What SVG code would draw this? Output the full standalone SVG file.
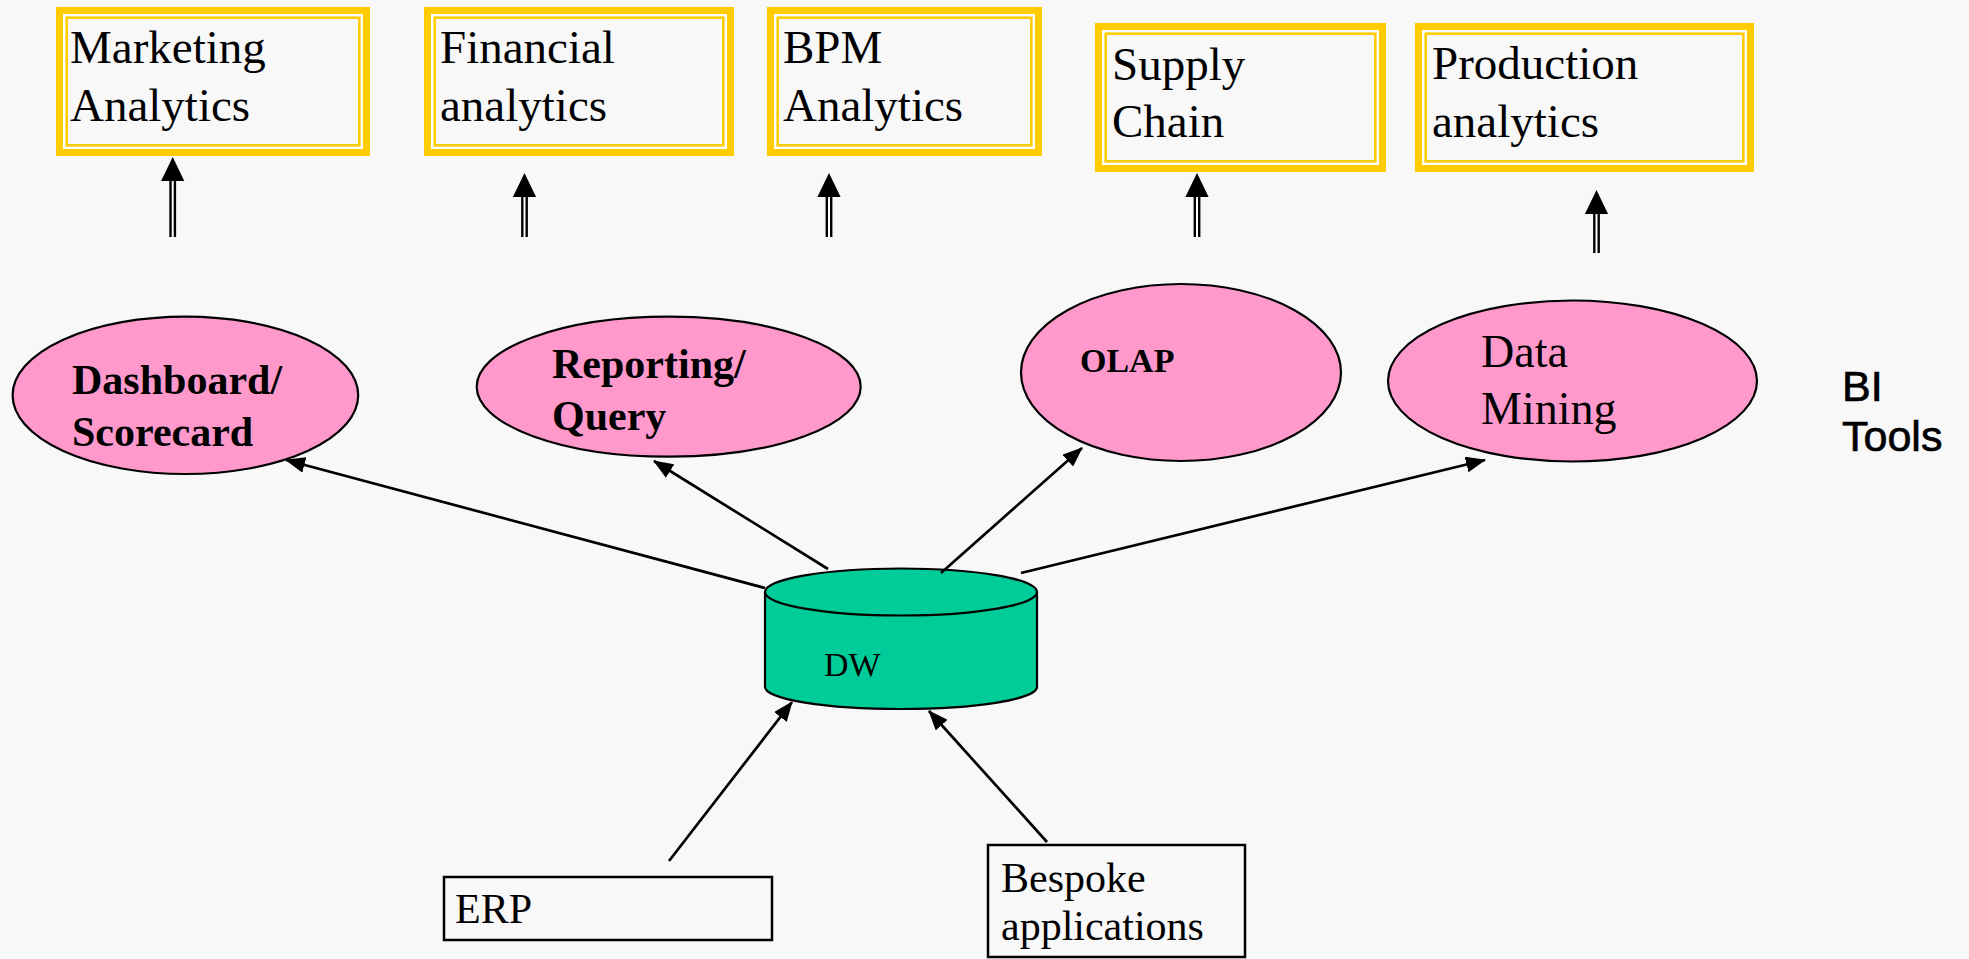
<svg xmlns="http://www.w3.org/2000/svg" width="1969" height="959" viewBox="0 0 1969 959">
<style>
.bg{fill:#f8f8f8}
.yb{fill:none;stroke:#ffcc00;stroke-width:7}
.wl{fill:none;stroke:#ffffff;stroke-width:2.4}
.yt{fill:none;stroke:#ffcc00;stroke-width:2.6}
.t{font-family:"Liberation Serif","Times New Roman",serif;fill:#000}
.tb{font-family:"Liberation Serif","Times New Roman",serif;font-weight:bold;fill:#000}
.s{font-family:"Liberation Sans",Arial,sans-serif;fill:#000;stroke:#000;stroke-width:0.7}
.pk{fill:#ff99cc;stroke:#000;stroke-width:2.2}
.cyl{fill:#00cc99;stroke:#000;stroke-width:2.2}
.box{fill:none;stroke:#000;stroke-width:2.5}
.c{stroke:#000;stroke-width:2.7;fill:none}
.sh1{stroke:#000;stroke-width:6.8}
.sh2{stroke:#ffffff;stroke-width:2}
.ah{fill:#000}
</style>
<defs>
<marker id="arr" markerUnits="userSpaceOnUse" markerWidth="20" markerHeight="16" viewBox="0 0 20 16" refX="19" refY="8" orient="auto">
<path d="M0,0 L20,8 L0,16 Z" fill="#000"/>
</marker>
</defs>
<rect class="bg" x="0" y="0" width="1969" height="959"/>

<g id="marketing">
<rect class="yb" x="59.5" y="10.5" width="307" height="142"/>
<rect class="wl" x="64.2" y="15.2" width="297.6" height="132.6"/>
<rect class="yt" x="66.7" y="17.7" width="292.6" height="127.6"/>
<text class="t" font-size="47" x="70" y="63">Marketing</text>
<text class="t" font-size="47" x="70" y="121">Analytics</text>
</g>
<g id="financial">
<rect class="yb" x="427.5" y="10.5" width="303" height="142"/>
<rect class="wl" x="432.2" y="15.2" width="293.6" height="132.6"/>
<rect class="yt" x="434.7" y="17.7" width="288.6" height="127.6"/>
<text class="t" font-size="47" x="440" y="63">Financial</text>
<text class="t" font-size="47" x="440" y="121">analytics</text>
</g>
<g id="bpm">
<rect class="yb" x="770.5" y="10.5" width="268" height="142"/>
<rect class="wl" x="775.2" y="15.2" width="258.6" height="132.6"/>
<rect class="yt" x="777.7" y="17.7" width="253.6" height="127.6"/>
<text class="t" font-size="47" x="783" y="63">BPM</text>
<text class="t" font-size="47" x="783" y="121">Analytics</text>
</g>
<g id="supply">
<rect class="yb" x="1098.5" y="26.5" width="284" height="142"/>
<rect class="wl" x="1103.2" y="31.2" width="274.6" height="132.6"/>
<rect class="yt" x="1105.7" y="33.7" width="269.6" height="127.6"/>
<text class="t" font-size="47" x="1112" y="80">Supply</text>
<text class="t" font-size="47" x="1112" y="137">Chain</text>
</g>
<g id="production">
<rect class="yb" x="1418.5" y="26.5" width="332" height="142"/>
<rect class="wl" x="1423.2" y="31.2" width="322.6" height="132.6"/>
<rect class="yt" x="1425.7" y="33.7" width="317.6" height="127.6"/>
<text class="t" font-size="47" x="1432" y="79">Production</text>
<text class="t" font-size="47" x="1432" y="137">analytics</text>
</g>

<g id="dashboard">
<ellipse class="pk" cx="185.4" cy="395.3" rx="172.8" ry="78.7"/>
<text class="tb" font-size="42" x="72" y="394">Dashboard/</text>
<text class="tb" font-size="42" x="72" y="446">Scorecard</text>
</g>
<g id="reporting">
<ellipse class="pk" cx="668.7" cy="386.7" rx="192" ry="70"/>
<text class="tb" font-size="42" x="552" y="378">Reporting/</text>
<text class="tb" font-size="42" x="552" y="430">Query</text>
</g>
<g id="olap">
<ellipse class="pk" cx="1181" cy="372.5" rx="160" ry="88.5"/>
<text class="tb" font-size="34" x="1080" y="372">OLAP</text>
</g>
<g id="datamining">
<ellipse class="pk" cx="1572.5" cy="381" rx="184.5" ry="80.5"/>
<text class="t" font-size="46" x="1481" y="367">Data</text>
<text class="t" font-size="46" x="1481" y="424">Mining</text>
</g>
<g id="bitools">
<text class="s" font-size="43" x="1842" y="401">BI</text>
<text class="s" font-size="43" x="1842" y="451">Tools</text>
</g>

<g id="dw">
<path class="cyl" d="M765,592 L765,687 A136,22 0 0 0 1037,687 L1037,592 A136,23.5 0 0 0 765,592 Z"/>
<path class="cyl" d="M765,592 A136,23.5 0 0 0 1037,592"/>
<text class="t" font-size="34" x="824" y="676">DW</text>
</g>

<g id="erp">
<rect class="box" x="444" y="877" width="328" height="63"/>
<text class="t" font-size="42" x="455" y="923">ERP</text>
</g>
<g id="bespoke">
<rect class="box" x="988" y="845" width="257" height="112"/>
<text class="t" font-size="42" x="1001" y="892">Bespoke</text>
<text class="t" font-size="42" x="1001" y="940">applications</text>
</g>

<g id="connectors">
<line class="c" x1="765" y1="588" x2="286" y2="460" marker-end="url(#arr)"/>
<line class="c" x1="828" y1="569" x2="654" y2="461" marker-end="url(#arr)"/>
<line class="c" x1="941" y1="573" x2="1082" y2="448" marker-end="url(#arr)"/>
<line class="c" x1="1021" y1="573" x2="1485" y2="460" marker-end="url(#arr)"/>
<line class="c" x1="669" y1="861" x2="792" y2="702" marker-end="url(#arr)"/>
<line class="c" x1="1047" y1="842" x2="929" y2="711" marker-end="url(#arr)"/>

<g id="up-marketing">
<line class="sh1" x1="172.7" y1="180" x2="172.7" y2="237"/>
<line class="sh2" x1="172.7" y1="180" x2="172.7" y2="237"/>
<path class="ah" d="M172.7,157 L184.3,181 L161.1,181 Z"/>
</g>
<g id="up-financial">
<line class="sh1" x1="524.5" y1="196" x2="524.5" y2="237"/>
<line class="sh2" x1="524.5" y1="196" x2="524.5" y2="237"/>
<path class="ah" d="M524.5,173 L536.1,197 L512.9,197 Z"/>
</g>
<g id="up-bpm">
<line class="sh1" x1="829" y1="196" x2="829" y2="237"/>
<line class="sh2" x1="829" y1="196" x2="829" y2="237"/>
<path class="ah" d="M829,173 L840.6,197 L817.4,197 Z"/>
</g>
<g id="up-supply">
<line class="sh1" x1="1197" y1="196" x2="1197" y2="237"/>
<line class="sh2" x1="1197" y1="196" x2="1197" y2="237"/>
<path class="ah" d="M1197,173 L1208.6,197 L1185.4,197 Z"/>
</g>
<g id="up-production">
<line class="sh1" x1="1596.5" y1="213" x2="1596.5" y2="253"/>
<line class="sh2" x1="1596.5" y1="213" x2="1596.5" y2="253"/>
<path class="ah" d="M1596.5,190 L1608.1,214 L1584.9,214 Z"/>
</g>
</g>
</svg>
